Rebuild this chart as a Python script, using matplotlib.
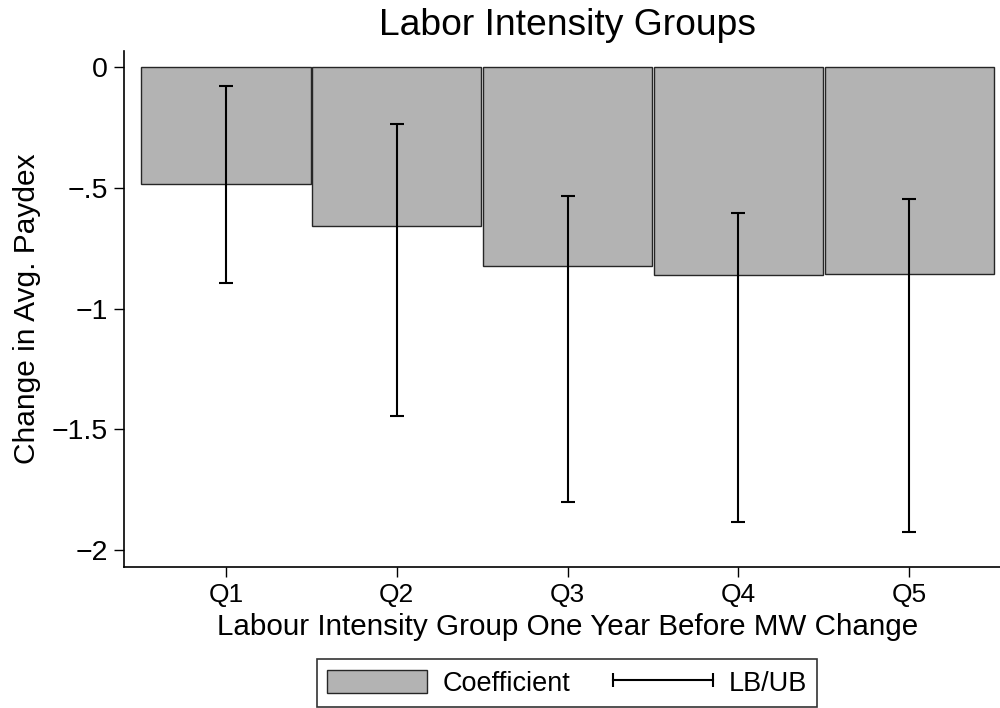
import numpy as np
import matplotlib
matplotlib.use('Agg')
import matplotlib.pyplot as plt
from matplotlib.lines import Line2D
from matplotlib.patches import Patch
from matplotlib.legend_handler import HandlerLine2D

# data
groups = ['Q1', 'Q2', 'Q3', 'Q4', 'Q5']
coef = [-0.482, -0.659, -0.823, -0.861, -0.857]
lower = [-0.893, -1.445, -1.803, -1.884, -1.928]
upper = [-0.077, -0.233, -0.534, -0.605, -0.544]
ytick_vals = [0, -0.5, -1, -1.5, -2]
ytick_labels = ['0', '\u2212.5', '\u22121', '\u22121.5', '\u22122']

plt.rcParams['font.family'] = ['Liberation Sans', 'DejaVu Sans']

fig = plt.figure(figsize=(10, 7.08), dpi=100)
# plot region runs a bit past the right edge, as in the reference
ax = fig.add_axes([0.124, 0.1992, 0.886, 0.7292])

x = np.arange(1, len(groups) + 1)
ax.bar(x, coef, width=0.99, color='#b3b3b3', edgecolor='#262626', linewidth=1.0, zorder=2)

# confidence interval whiskers
mid = [(l + u) / 2 for l, u in zip(lower, upper)]
ax.errorbar(x, mid, yerr=[np.subtract(mid, lower), np.subtract(upper, mid)],
            fmt='none', ecolor='black', elinewidth=1.5, capsize=5, capthick=1.5, zorder=3)

ax.set_xlim(0.403, 5.59)
ax.set_ylim(-2.071, 0.069)
ax.set_xticks(x)
ax.set_xticklabels(groups, fontsize=19)
ax.set_yticks(ytick_vals)
ax.set_yticklabels(ytick_labels, fontsize=20.5)
ax.tick_params(axis='both', direction='out', length=7.5, width=1.0, pad=4, color='black')

for side in ['top', 'right']:
    ax.spines[side].set_visible(False)
for side in ['left', 'bottom']:
    ax.spines[side].set_linewidth(1.2)

ax.set_ylabel('Change in Avg. Paydex', fontsize=21.5, va='center')
ax.yaxis.set_label_coords(-0.1095, 0.5)
ax.set_xlabel('Labour Intensity Group One Year Before MW Change', fontsize=21.3, va='baseline')
ax.xaxis.set_label_coords(0.501, -0.1317)

fig.text(0.5675, 0.9506, 'Labor Intensity Groups', ha='center', va='baseline', fontsize=26.8)

handles = [Patch(facecolor='#b3b3b3', edgecolor='#262626', linewidth=1.0),
           Line2D([0], [0], color='black', linewidth=1.5, marker='|', markersize=10, markeredgewidth=1.5)]
leg = fig.legend(handles, ['Coefficient', 'LB/UB'], loc='center', bbox_to_anchor=(0.567, 0.0353),
                 ncol=2, frameon=True, fancybox=False, fontsize=19.5, handlelength=3.7,
                 handleheight=0.95, numpoints=2, columnspacing=1.55, handletextpad=0.59,
                 borderpad=0.38, edgecolor='black',
                 handler_map={Line2D: HandlerLine2D(marker_pad=0, numpoints=2)})
leg.get_frame().set_linewidth(1.2)

fig.savefig('out.png', dpi=100)
